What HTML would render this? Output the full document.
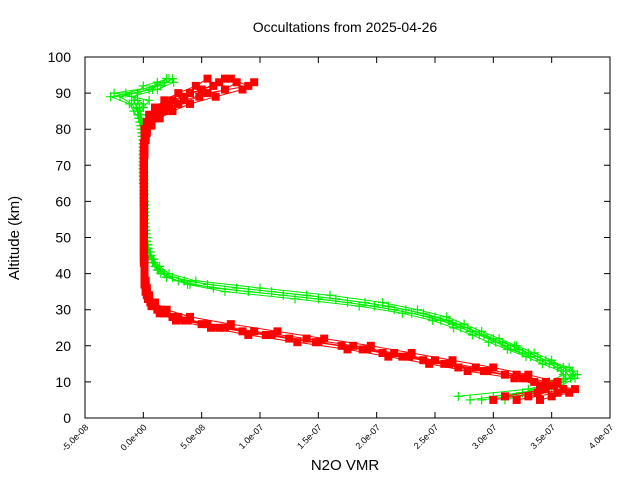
<!DOCTYPE html>
<html><head><meta charset="utf-8"><style>
html,body{margin:0;padding:0;background:#fff}
svg{display:block;font-family:"Liberation Sans",sans-serif}
</style></head><body>
<svg id="chart" width="640" height="480" viewBox="0 0 640 480">
<text x="345" y="32" text-anchor="middle" font-size="14">Occultations from 2025-04-26</text>
<text x="345" y="470" text-anchor="middle" font-size="15">N2O VMR</text>
<text transform="translate(19,238) rotate(-90)" text-anchor="middle" font-size="15">Altitude (km)</text>
<g id="marks"></g>
<g id="axes"></g>
</svg>
<script>
const xTicks=[-5e-8,0,5e-8,1e-7,1.5e-7,2e-7,2.5e-7,3e-7,3.5e-7,4e-7];
const xTickLabels=["-5.0e-08","0.0e+00","5.0e-08","1.0e-07","1.5e-07","2.0e-07","2.5e-07","3.0e-07","3.5e-07","4.0e-07"];
const yTicks=[0,10,20,30,40,50,60,70,80,90,100];
const altsEven=[6,8,10,12,14,16,18,20,22,24,26,28,30,32,34,36,38,40,42,44,46,48,50,52,54,56,58,60,62,64,66,68,70,72,74,76,78,80,82,84,86,88,90,92,94];
const altsOdd=[5,7,9,11,13,15,17,19,21,23,25,27,29,31,33,35,37,39,41,43,45,47,49,51,53,55,57,59,61,63,65,67,69,71,73,75,77,79,81,83,85,87,89,91,93];
const green1=[300,345,360,368,360,350,335,320,305,290,275,260,235,205,160,100,45,22,14,9,6,4,3,2,1.5,1,1,1,0.5,0.5,0.5,0.5,0,0,0,0,0,0,-1,-2,-3,-5,-15,10,20];
const green2=[270,330,355,372,365,345,330,318,300,285,268,250,225,190,140,80,35,18,12,8,5,4,3,2,1.5,1,1,1,1,0.5,0.5,0,0,0,0,0,-1,-1,-2,-3,0,5,-25,15,25];
const green3=[320,350,348,360,355,340,325,310,298,280,265,245,215,175,120,60,30,15,10,7,5,3,2,2,1,1,1,0.5,0.5,0.5,0,0,0,0,0,0,0,-2,-3,-4,-6,-8,-5,0,22];
const green4=[290,340,352,366,362,348,332,315,302,288,272,255,230,198,150,90,40,20,13,8,6,4,3,2,1.5,1,1,1,0.5,0.5,0.5,0,0,0,0,0,0,-1,-1,-3,-5,-10,-20,5,18];
const green5=[310,335,358,370,368,352,338,322,308,292,278,262,240,210,165,110,55,25,15,9,6,4,3,2,1.5,1,1,1,0.5,0.5,0.5,0.5,0,0,0,0,0,0,-2,-4,-8,-12,-28,8,12];
const green6=[280,325,345,362,358,342,328,312,296,282,266,248,222,185,130,70,38,20,12,8,5,3,2,2,1,1,1,0.5,0.5,0.5,0,0,0,0,0,0,0,-1,-2,-3,-4,0,-10,12,26];
const red1=[330,360,345,320,285,250,215,180,140,95,55,30,15,8,4,2,1,1,1,0.5,0.5,0.5,0.5,0.5,0.5,0.5,0.5,0.5,0.5,0.5,0.5,0.5,0.5,0.5,0.5,1,1,2,4,8,15,25,40,60,70];
const red2=[310,345,355,330,300,265,230,195,155,115,75,40,20,10,5,3,2,1,1,1,0.5,0.5,0.5,0.5,0.5,0.5,0.5,0.5,0.5,0.5,0.5,0.5,0.5,0.5,1,1,2,3,6,12,22,35,55,90,75];
const red3=[350,370,335,310,270,240,205,170,125,85,50,25,12,6,3,2,1,1,1,0.5,0.5,0.5,0.5,0.5,0.5,0.5,0.5,0.5,0.5,0.5,0.5,0.5,0.5,0.5,0.5,0.5,1,1,3,5,10,18,30,45,55];
const red4=[320,355,350,325,292,258,222,188,148,105,65,35,18,9,4,2,1,1,1,0.5,0.5,0.5,0.5,0.5,0.5,0.5,0.5,0.5,0.5,0.5,0.5,0.5,0.5,0.5,0.5,1,1,2,5,10,18,30,48,70,80];
const red5=[340,365,340,318,278,245,210,175,132,90,58,28,14,7,4,2,1,1,1,0.5,0.5,0.5,0.5,0.5,0.5,0.5,0.5,0.5,0.5,0.5,0.5,0.5,0.5,0.5,0.5,0.5,1,1,3,6,12,20,35,50,65];
const red6=[300,338,352,328,295,262,228,192,150,110,70,38,18,9,5,3,2,1,1,1,0.5,0.5,0.5,0.5,0.5,0.5,0.5,0.5,0.5,0.5,0.5,0.5,0.5,0.5,1,1,2,3,7,14,25,40,62,85,95];
const greenSeries=[green1,green2,green3,green4,green5,green6];
const redSeries=[red1,red2,red3,red4,red5,red6];
const seriesAlts=[altsEven,altsEven,altsEven,altsOdd,altsOdd,altsOdd];

const L=85,R=610,T=57,B=418;
const xMin=-5e-8,xMax=4e-7,yMin=0,yMax=100;
const sx=v=>L+(v-xMin)/(xMax-xMin)*(R-L);
const sy=v=>B-(v-yMin)/(yMax-yMin)*(B-T);
const NS="http://www.w3.org/2000/svg";
function mk(tag,attrs,parent){const e=document.createElementNS(NS,tag);for(const k in attrs)e.setAttribute(k,attrs[k]);parent.appendChild(e);return e;}
const marks=document.getElementById('marks'),axes=document.getElementById('axes');

function drawSeries(series,color,type,name){
  series.forEach((vals,si)=>{
    const alts=seriesAlts[si];
    const g=mk('g',{},marks);
    
    
    const pts=vals.map((v,i)=>sx(v*1e-9).toFixed(1)+','+sy(alts[i]).toFixed(1)).join(' ');
    const pl=mk('polyline',{points:pts,fill:'none',stroke:color,'stroke-width':1},g);
    
    
    vals.forEach((v,i)=>{
      const x=sx(v*1e-9),y=sy(alts[i]);
      let m;
      if(type==='sq'){m=mk('rect',{x:x-4,y:y-4,width:8,height:8,fill:color},g);}
      else{m=mk('path',{d:`M${x-4.5},${y}H${x+4.5}M${x},${y-4.5}V${y+4.5}`,stroke:color,'stroke-width':1.2,fill:'none'},g);}
      
      
    });
  });
}
drawSeries(greenSeries,'#00ee00','plus','green-series');
drawSeries(redSeries,'#ff0000','sq','red-series');

const frame=mk('rect',{x:L,y:T,width:R-L,height:B-T,fill:'none',stroke:'#000','stroke-width':1},axes);


xTicks.forEach((t,i)=>{
  const x=sx(t);
  mk('path',{d:`M${x},${B}v-6M${x},${T}v6`,stroke:'#000'},axes);
  const tx=mk('text',{transform:`translate(${x+4},${B+10}) rotate(-45)`,'text-anchor':'end','font-size':9},axes);
  tx.textContent=xTickLabels[i];
  
  
});
yTicks.forEach(t=>{
  const y=sy(t);
  mk('path',{d:`M${L},${y}h6M${R},${y}h-6`,stroke:'#000'},axes);
  const tx=mk('text',{x:L-14,y:y+5,'text-anchor':'end','font-size':14},axes);
  tx.textContent=t;
  
  
});
</script>
</body></html>
